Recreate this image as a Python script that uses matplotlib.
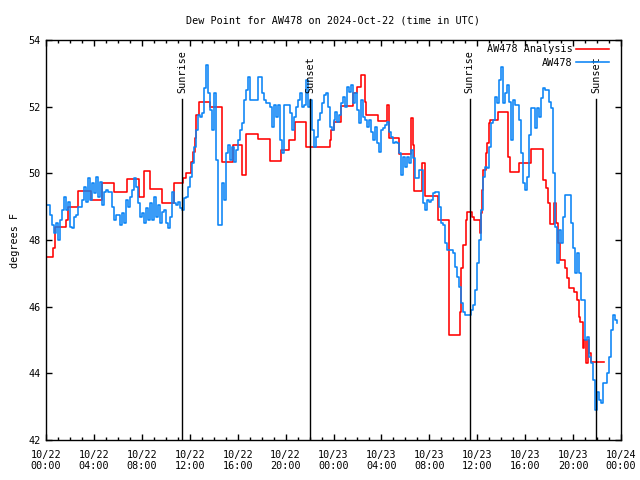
import numpy as np
import matplotlib
matplotlib.use("Agg")
import matplotlib.pyplot as plt

# AW478 observations, one value every 10 minutes from 10/22 00:00 UTC
obs = [
    49.05, 49.05, 48.75, 48.45, 48.2, 48.5,
    48.0, 48.6, 48.9, 49.3, 48.9, 49.15,
    48.4, 48.35, 48.7, 48.75, 48.98, 48.98,
    49.2, 49.6, 49.15, 49.85, 49.2, 49.7,
    49.4, 49.9, 49.3, 49.75, 49.05, 49.45,
    49.5, 49.45, 49.45, 49.0, 48.6, 48.75,
    48.75, 48.45, 48.8, 48.5, 49.2, 49.0,
    49.3, 49.5, 49.85, 49.6, 49.1, 48.7,
    48.8, 48.5, 48.95, 48.6, 49.1, 48.6,
    49.3, 48.7, 49.05, 48.5, 48.85, 48.9,
    48.5, 48.35, 48.7, 49.45, 49.1, 49.05,
    49.15, 48.95, 48.9, 49.25, 49.3, 49.6,
    49.9, 50.3, 50.8, 51.3, 51.75, 51.7,
    51.8, 52.55, 53.25, 52.4, 51.9, 51.3,
    52.4, 50.4, 48.45, 48.45, 49.7, 49.2,
    50.6, 50.85, 50.4, 50.8, 50.35, 50.7,
    51.0, 51.3, 51.5, 52.2, 52.5, 52.9,
    52.2, 52.2, 52.2, 52.2, 52.9, 52.9,
    52.4, 52.2, 52.1, 52.1, 52.0, 51.4,
    52.05, 51.7, 52.05, 51.0, 50.6, 52.05,
    52.05, 52.05, 51.8, 51.3, 51.7, 52.0,
    52.2, 52.4, 52.0, 52.05, 52.8, 52.0,
    52.2, 51.3, 50.8, 51.1, 51.6, 51.8,
    52.1, 52.35, 52.4, 52.0, 51.4, 51.3,
    51.6, 51.85, 51.55, 51.75, 52.1, 52.3,
    52.0, 52.6, 52.45, 52.65, 52.1, 52.4,
    51.9, 51.5, 52.2, 51.7, 51.6, 51.4,
    51.6, 51.25, 51.0, 51.4, 50.9, 50.65,
    51.3, 51.35, 51.45, 51.55, 51.25, 51.1,
    50.9, 50.95, 50.9, 50.6, 49.95, 50.5,
    50.2, 50.5, 50.3, 50.7, 50.45, 49.85,
    49.85, 50.1, 50.1, 49.1, 48.9, 49.2,
    49.15, 49.2, 49.4, 49.45, 49.45, 49.0,
    48.5, 48.45, 47.9, 47.7, 47.7, 47.7,
    47.6, 47.2, 46.9, 46.6, 46.1, 45.85,
    45.75, 45.75, 45.75, 45.9, 46.05, 46.5,
    47.3, 48.0, 48.9, 49.9, 50.2, 50.15,
    50.8, 51.5, 51.6, 52.3, 52.1, 52.8,
    53.2, 52.1, 52.4, 52.65, 52.15, 51.0,
    52.2, 52.05, 52.05, 51.6, 50.6, 49.7,
    49.5, 49.9, 51.15, 51.95, 51.95, 51.35,
    51.95, 51.7, 52.25, 52.55, 52.5, 52.5,
    52.15, 51.95, 50.0, 48.4, 47.3, 48.3,
    47.9, 48.7, 49.35, 49.35, 49.35, 48.5,
    47.75, 47.0, 47.6, 47.0, 46.2, 46.2,
    45.0, 45.1, 44.5, 44.3, 43.8, 42.9,
    43.45, 43.2, 43.1, 43.7, 43.7, 44.0,
    44.5, 45.3, 45.75, 45.6, 45.5,
]
obs_hours = np.arange(len(obs)) / 6.0

# AW478 analysis: hour of each change and the new value
ana_hours = [0, 0.6, 0.75, 1.7, 1.85, 2.67, 3.72, 4.7, 5.7, 6.8, 7.75, 8.2, 8.7,
             9.7, 10.7, 11.4, 11.7, 12.1, 12.3, 12.4, 12.5, 12.8, 13.7, 14.7,
             15.6, 16.4, 16.7, 17.7, 18.7, 19.6, 20.3, 20.75, 21.7, 23.7, 23.8,
             24.0, 24.6, 25.6, 26.0, 26.3, 26.6, 26.7, 27.7, 28.5, 28.6, 29.5,
             30.5, 30.6, 30.7, 31.4, 31.6, 32.7, 33.65, 34.55, 34.65, 34.8,
             35.05, 35.15, 35.6, 35.75, 36.2, 36.3, 36.4, 36.5, 36.7, 36.85,
             37.0, 37.1, 37.7, 38.55, 38.7, 39.5, 40.5, 41.5, 41.7, 41.9, 42.1,
             42.4, 42.55, 42.7, 42.9, 43.3, 43.5, 43.65, 44.1, 44.3, 44.5, 44.6,
             44.8, 44.95, 45.1, 45.25, 45.33, 45.5, 46.6]
ana_vals = [47.5, 47.75, 48.38, 48.6, 49.0, 49.48, 49.2, 49.7, 49.45, 49.82, 49.3,
            50.08, 49.52, 49.12, 49.7, 49.85, 50.0, 50.35, 50.65, 51.05, 51.75,
            52.13, 51.98, 50.35, 50.85, 49.95, 51.17, 51.03, 50.37, 50.7, 51.0,
            51.55, 50.78, 51.0, 51.3, 51.55, 52.02, 52.4, 52.6, 52.95, 52.15,
            51.75, 51.57, 52.05, 51.05, 50.57, 51.65, 50.85, 49.47, 50.3, 49.32,
            48.6, 45.15, 45.85, 47.15, 47.85, 48.6, 48.83, 48.7, 48.6, 48.2,
            48.8, 49.5, 50.1, 50.6, 50.9, 51.5, 51.6, 51.85, 50.5, 50.03, 50.3,
            50.73, 49.8, 49.55, 49.1, 48.48, 49.1, 48.5, 47.9, 47.4, 47.15, 46.85,
            46.55, 46.45, 46.2, 45.7, 45.53, 44.75, 45.0, 44.3, 45.0, 44.6, 44.33,
            44.33]

sun_hours = [11.39, 22.03, 35.36, 45.94]
sun_names = ["Sunrise", "Sunset", "Sunrise", "Sunset"]

tick_hours = list(range(0, 49, 4))
tick_labels = ["10/22\n00:00", "10/22\n04:00", "10/22\n08:00", "10/22\n12:00",
               "10/22\n16:00", "10/22\n20:00", "10/23\n00:00", "10/23\n04:00",
               "10/23\n08:00", "10/23\n12:00", "10/23\n16:00", "10/23\n20:00",
               "10/24\n00:00"]

plt.rcParams['font.family'] = ['DejaVu Sans Mono']
fs = 7.3

fig = plt.figure(figsize=(6.4, 4.8), dpi=100)
ax = fig.add_axes([46 / 640, 40 / 480, 575 / 640, 400 / 480])

ax.plot(ana_hours, ana_vals, drawstyle='steps-post', color='#ff0000', lw=1.15,
        label='AW478 Analysis')
ax.plot(obs_hours, obs, drawstyle='steps-post', color='#0a84f5', lw=1.15,
        label='AW478')

for h, name in zip(sun_hours, sun_names):
    ax.plot([h, h], [42, 52.23], color='black', lw=1.0)
    ax.text(h, 52.4, name, rotation=90, ha='center', va='bottom', fontsize=fs)

ax.set_xlim(0, 48)
ax.set_ylim(42, 54)
ax.set_xticks(tick_hours)
ax.set_xticklabels(tick_labels)
ax.set_xticks(range(0, 49), minor=True)
ax.set_yticks(range(42, 55, 2))
ax.tick_params(which='both', direction='in', top=True, right=True,
               labelsize=fs, width=1.0)
ax.tick_params(which='major', length=4)
ax.tick_params(axis='y', which='major', pad=4)
ax.tick_params(axis='x', which='major', pad=7)
ax.tick_params(which='minor', length=2)
for s in ax.spines.values():
    s.set_linewidth(1.0)

ax.set_ylabel('degrees F', fontsize=fs, labelpad=6)
ax.set_title('Dew Point for AW478 on 2024-Oct-22 (time in UTC)', fontsize=fs, pad=12)

ax.legend(loc='upper right', frameon=False, markerfirst=False, fontsize=fs,
          handlelength=3.3, handletextpad=0.3, labelspacing=0.35,
          bbox_to_anchor=(0.995, 1.012))

fig.savefig('out.png', dpi=100)
